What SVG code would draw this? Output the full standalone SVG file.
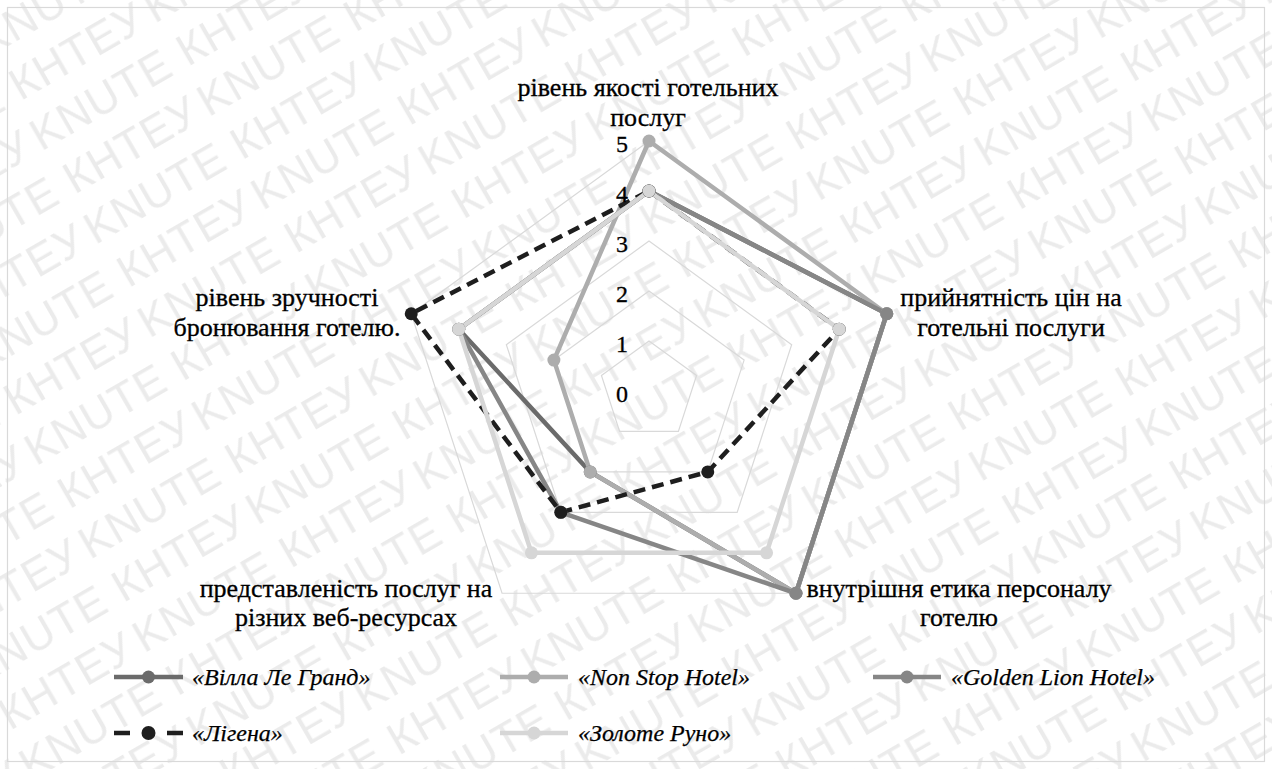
<svg xmlns="http://www.w3.org/2000/svg" width="1272" height="769" viewBox="0 0 1272 769">
<style>
.wm{font-family:"Liberation Sans",Arial,sans-serif;font-size:44px;fill:#ebebeb}
.grid{fill:none;stroke:#d9d9d9;stroke-width:1.2}
.cat{font-family:"Liberation Serif","Times New Roman",serif;font-size:26px;fill:#000;stroke:#000;stroke-width:0.3;text-anchor:middle}
.val{font-family:"Liberation Serif","Times New Roman",serif;font-size:24px;fill:#000;stroke:#000;stroke-width:0.3;text-anchor:end}
.leg{font-family:"Liberation Serif","Times New Roman",serif;font-size:24px;font-style:italic;fill:#000;stroke:#000;stroke-width:0.25}
.s{fill:none;stroke-width:4.5;stroke-linejoin:round}
.s1{stroke:#6b6b6b}.m1{fill:#6b6b6b}
.s2{stroke:#adadad}.m2{fill:#adadad}
.s3{stroke:#868686}.m3{fill:#868686}
.s4{stroke:#1e1e1e;stroke-dasharray:12 7}.m4{fill:#1e1e1e}
.s4l{stroke:#1e1e1e}
.s5{stroke:#d6d6d6}.m5{fill:#d6d6d6}
</style>
<defs>
<pattern id="wmp" patternUnits="userSpaceOnUse" width="324" height="108" patternTransform="rotate(-30) translate(-40 0)">
<text class="wm" x="0" y="44" textLength="316">KNUTE КНТЕУ</text>
<text class="wm" x="-162" y="98" textLength="316">KNUTE КНТЕУ</text>
<text class="wm" x="162" y="98" textLength="316">KNUTE КНТЕУ</text>
</pattern>
</defs>
<rect x="0" y="0" width="1272" height="769" fill="#fff"/>
<rect x="0" y="0" width="1272" height="769" fill="url(#wmp)"/>
<rect x="7.5" y="7.5" width="1257" height="754" fill="none" stroke="#d9d9d9" stroke-width="1.2"/>

<g id="grid">
<polygon class="grid" points="649,341 696.55,375.55 678.39,431.45 619.61,431.45 601.45,375.55"/>
<polygon class="grid" points="649,291 744.11,360.10 707.78,471.90 590.22,471.90 553.89,360.10"/>
<polygon class="grid" points="649,241 791.66,344.65 737.17,512.35 560.83,512.35 506.34,344.65"/>
<polygon class="grid" points="649,191 839.21,329.20 766.56,552.80 531.44,552.80 458.79,329.20"/>
<polygon class="grid" points="649,141 886.77,313.75 795.95,593.25 502.05,593.25 411.23,313.75"/>
</g>

<g id="connectors">
<polygon class="s s1" points="649,191 886.77,313.75 795.95,593.25 590.22,471.90 458.79,329.20"/>
<polygon class="s s2" points="649,141 886.77,313.75 795.95,593.25 590.22,471.90 553.89,360.10"/>
<polygon class="s s3" points="649,191 886.77,313.75 795.95,593.25 560.83,512.35 458.79,329.20"/>
<polygon class="s s4" points="649,191 839.21,329.20 707.78,471.90 560.83,512.35 411.23,313.75"/>
<polygon class="s s5" points="649,191 839.21,329.20 766.56,552.80 531.44,552.80 458.79,329.20"/>
</g>

<g id="markers">
<g class="m1"><circle cx="649" cy="191" r="6.5"/><circle cx="886.77" cy="313.75" r="6.5"/><circle cx="795.95" cy="593.25" r="6.5"/><circle cx="590.22" cy="471.9" r="6.5"/><circle cx="458.79" cy="329.2" r="6.5"/></g>
<g class="m2"><circle cx="649" cy="141" r="6.5"/><circle cx="886.77" cy="313.75" r="6.5"/><circle cx="795.95" cy="593.25" r="6.5"/><circle cx="590.22" cy="471.9" r="6.5"/><circle cx="553.89" cy="360.1" r="6.5"/></g>
<g class="m3"><circle cx="649" cy="191" r="6.5"/><circle cx="886.77" cy="313.75" r="6.5"/><circle cx="795.95" cy="593.25" r="6.5"/><circle cx="560.83" cy="512.35" r="6.5"/><circle cx="458.79" cy="329.2" r="6.5"/></g>
<g class="m4"><circle cx="649" cy="191" r="6.5"/><circle cx="839.21" cy="329.2" r="6.5"/><circle cx="707.78" cy="471.9" r="6.5"/><circle cx="560.83" cy="512.35" r="6.5"/><circle cx="411.23" cy="313.75" r="6.5"/></g>
<g class="m5"><circle cx="649" cy="191" r="6.5"/><circle cx="839.21" cy="329.2" r="6.5"/><circle cx="766.56" cy="552.8" r="6.5"/><circle cx="531.44" cy="552.8" r="6.5"/><circle cx="458.79" cy="329.2" r="6.5"/></g>
</g>

<g id="axis-values">
<text class="val" x="628" y="152">5</text>
<text class="val" x="628" y="202">4</text>
<text class="val" x="628" y="252">3</text>
<text class="val" x="628" y="302">2</text>
<text class="val" x="628" y="352">1</text>
<text class="val" x="628" y="402">0</text>
</g>

<g id="cat-top"><text class="cat" x="648" y="96">рівень якості готельних</text><text class="cat" x="648" y="126">послуг</text></g>
<g id="cat-right"><text class="cat" x="1011" y="306">прийнятність цін на</text><text class="cat" x="1011" y="336">готельні послуги</text></g>
<g id="cat-bottom-right"><text class="cat" x="959" y="597">внутрішня етика персоналу</text><text class="cat" x="959" y="626">готелю</text></g>
<g id="cat-bottom-left"><text class="cat" x="346" y="597">представленість послуг на</text><text class="cat" x="346" y="626">різних веб-ресурсах</text></g>
<g id="cat-left"><text class="cat" x="287" y="306">рівень зручності</text><text class="cat" x="287" y="336">бронювання готелю.</text></g>

<g id="legend">
<g id="leg-villa"><line class="s s1" x1="114" y1="677" x2="183" y2="677"/><circle class="m1" cx="148.5" cy="677" r="6.5"/><text class="leg" x="192" y="685">«Вілла Ле Гранд»</text></g>
<g id="leg-nonstop"><line class="s s2" x1="500" y1="677" x2="568" y2="677"/><circle class="m2" cx="534" cy="677" r="6.5"/><text class="leg" x="578" y="685">«Non Stop Hotel»</text></g>
<g id="leg-golden"><line class="s s3" x1="873" y1="677" x2="941" y2="677"/><circle class="m3" cx="907" cy="677" r="6.5"/><text class="leg" x="951" y="685">«Golden Lion Hotel»</text></g>
<g id="leg-ligena"><path class="s s4l" d="M114,733 H130 M167,733 H183"/><circle class="m4" cx="148.5" cy="733" r="7"/><text class="leg" x="192" y="741">«Лігена»</text></g>
<g id="leg-zoloto"><line class="s s5" x1="500" y1="733" x2="568" y2="733"/><circle class="m5" cx="534" cy="733" r="6.5"/><text class="leg" x="578" y="741">«Золоте Руно»</text></g>
</g>
</svg>
